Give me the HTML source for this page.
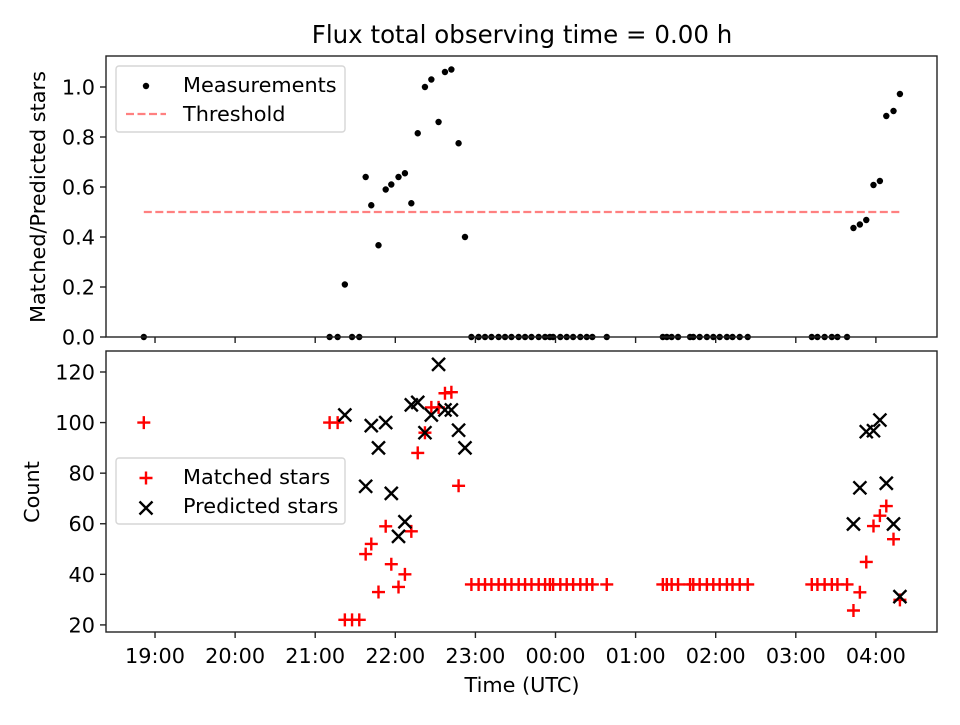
<!DOCTYPE html>
<html><head><meta charset="utf-8"><style>
body{margin:0;background:#fff}
svg{font-family:"DejaVu Sans","Liberation Sans",sans-serif}
</style></head><body>
<svg id="c" width="960" height="720" viewBox="0 0 960 720" xmlns="http://www.w3.org/2000/svg">
<rect width="960" height="720" fill="#fff"/>
<text x="522" y="43" font-size="24.5" text-anchor="middle">Flux total observing time = 0.00 h</text>
<g id="topPanel"></g>
<g id="botPanel"></g>
</svg>
<script>
const ratioTimes=[18.86,21.18,21.28,21.46,21.55,21.37,21.63,21.70,21.79,21.88,21.95,22.04,22.12,22.20,22.28,22.37,22.45,22.54,22.62,22.70,22.79,22.87,
22.95,23.04,23.12,23.20,23.29,23.37,23.45,23.54,23.62,23.70,23.79,23.87,23.93,23.97,24.06,24.14,24.22,24.31,24.39,24.46,24.64,
25.34,25.39,25.45,25.53,25.68,25.72,25.80,25.89,25.97,26.05,26.14,26.21,26.30,26.40,
27.20,27.27,27.36,27.45,27.52,27.64,27.72,27.80,27.88,27.97,28.05,28.13,28.22,28.30];
const ratioValues=[0,0,0,0,0,0.21,0.64,0.527,0.367,0.59,0.61,0.64,0.655,0.535,0.815,1.0,1.03,0.86,1.06,1.07,0.775,0.40,
0,0,0,0,0,0,0,0,0,0,0,0,0,0,0,0,0,0,0,0,0,
0,0,0,0,0,0,0,0,0,0,0,0,0,0,
0,0,0,0,0,0,0.436,0.45,0.468,0.608,0.624,0.884,0.904,0.972];
const threshold=0.5, thresholdStart=18.86, thresholdEnd=28.30;
const matchedTimes=[18.86,21.18,21.28,21.37,21.46,21.55,21.63,21.70,21.79,21.88,21.95,22.04,22.12,22.20,22.28,22.37,22.45,22.54,22.62,22.70,22.79,
22.95,23.04,23.12,23.20,23.29,23.37,23.45,23.54,23.62,23.70,23.79,23.87,23.93,23.97,24.06,24.14,24.22,24.31,24.39,24.46,24.64,
25.34,25.39,25.45,25.53,25.68,25.72,25.80,25.89,25.97,26.05,26.14,26.21,26.30,26.40,
27.20,27.27,27.36,27.45,27.52,27.64,27.72,27.80,27.88,27.97,28.05,28.13,28.22,28.30];
const matchedValues=[100,100,100,22,22,22,48,52,33,59,44,35,40,57,88,96,106,106,111.6,112,75,
36,36,36,36,36,36,36,36,36,36,36,36,36,36,36,36,36,36,36,36,36,
36,36,36,36,36,36,36,36,36,36,36,36,36,36,
36,36,36,36,36,36,25.7,32.9,44.9,59.1,63.2,67,53.9,29.9];
const predictedTimes=[21.37,21.63,21.70,21.79,21.88,21.95,22.04,22.12,22.20,22.28,22.37,22.45,22.54,22.62,22.70,22.79,22.87,27.72,27.80,27.88,27.97,28.05,28.13,28.22,28.30];
const predictedValues=[103,74.8,98.8,90,100,72,55,60.8,107,108,96,103,123,105,105,97,90,59.9,74.2,96.4,96.8,101,76,59.9,31.2];
const xTicks=[19,20,21,22,23,24,25,26,27,28];
const xTickLabels=["19:00","20:00","21:00","22:00","23:00","00:00","01:00","02:00","03:00","04:00"];
const topTicks=[0,0.2,0.4,0.6,0.8,1.0];
const topTickLabels=["0.0","0.2","0.4","0.6","0.8","1.0"];
const botTicks=[20,40,60,80,100,120];
const botTickLabels=["20","40","60","80","100","120"];

const NS="http://www.w3.org/2000/svg";
const FS=20.8;
const L=106,R=937;
const X0=18.388,X1=28.763;
const sx=t=>L+(t-X0)/(X1-X0)*(R-L);
const TP={top:56,bot:337,min:0,max:1.124};
const BP={top:351,bot:632,min:17.2,max:128.3};
const sy=(p,v)=>p.bot-(v-p.min)/(p.max-p.min)*(p.bot-p.top);
function el(parent,tag,attrs,text){const e=document.createElementNS(NS,tag);for(const k in attrs)e.setAttribute(k,attrs[k]);if(text!==undefined)e.textContent=text;parent.appendChild(e);return e;}

function frame(g,p,ticks,labels,showX){
  ticks.forEach((v,i)=>{const y=sy(p,v);
    const tk=el(g,'line',{x1:L-6,x2:L,y1:y,y2:y,stroke:'#222','stroke-width':1.4});
    
    const tl=el(g,'text',{x:L-11,y:y+7.5,'font-size':FS,'text-anchor':'end'},labels[i]);
    
  });
  xTicks.forEach((v,i)=>{const x=sx(v);
    const tk=el(g,'line',{x1:x,x2:x,y1:p.bot,y2:p.bot+6,stroke:'#222','stroke-width':1.4});
    
    if(showX){const tl=el(g,'text',{x:x,y:p.bot+31,'font-size':FS,'text-anchor':'middle'},xTickLabels[i]);
      }
  });
}
const topG=document.getElementById('topPanel'), botG=document.getElementById('botPanel');
frame(topG,TP,topTicks,topTickLabels,false);
frame(botG,BP,botTicks,botTickLabels,true);

const th=el(topG,'line',{x1:sx(thresholdStart),x2:sx(thresholdEnd),y1:sy(TP,threshold),y2:sy(TP,threshold),stroke:'#ff8080','stroke-width':2.2,'stroke-dasharray':'8,3.5'});

ratioTimes.forEach((t,i)=>{const c=el(topG,'circle',{cx:sx(t),cy:sy(TP,ratioValues[i]),r:3.2,fill:'#000'});
  });

function plus(g,x,y){return el(g,'path',{d:`M${x-6.5},${y}H${x+6.5}M${x},${y-6.5}V${y+6.5}`,stroke:'#f00','stroke-width':2.4});}
function cross(g,x,y){return el(g,'path',{d:`M${x-6.5},${y-6.5}L${x+6.5},${y+6.5}M${x-6.5},${y+6.5}L${x+6.5},${y-6.5}`,stroke:'#000','stroke-width':2.4});}
matchedTimes.forEach((t,i)=>{const p=plus(botG,sx(t),sy(BP,matchedValues[i]));
  });
predictedTimes.forEach((t,i)=>{const p=cross(botG,sx(t),sy(BP,predictedValues[i]));
  });

el(topG,'rect',{x:L,y:TP.top,width:R-L,height:TP.bot-TP.top,fill:'none',stroke:'#222','stroke-width':1.4});
el(botG,'rect',{x:L,y:BP.top,width:R-L,height:BP.bot-BP.top,fill:'none',stroke:'#222','stroke-width':1.4});

const lg1=el(topG,'g',{});


el(lg1,'rect',{x:116,y:66,width:229,height:66,rx:3,fill:'#fff','fill-opacity':0.8,stroke:'#d6d6d6','stroke-width':1.4});
el(lg1,'circle',{cx:146,cy:86,r:3.2,fill:'#000'});
el(lg1,'text',{x:183,y:92,'font-size':FS},'Measurements');
el(lg1,'line',{x1:126,x2:166,y1:114,y2:114,stroke:'#ff8080','stroke-width':2.2,'stroke-dasharray':'8,3.5'});
el(lg1,'text',{x:183,y:121,'font-size':FS},'Threshold');

const lg2=el(botG,'g',{});


el(lg2,'rect',{x:116,y:458,width:229,height:66,rx:3,fill:'#fff','fill-opacity':0.8,stroke:'#d6d6d6','stroke-width':1.4});
plus(lg2,146,478);
el(lg2,'text',{x:183,y:484,'font-size':FS},'Matched stars');
cross(lg2,146,508);
el(lg2,'text',{x:183,y:513,'font-size':FS},'Predicted stars');

const yl1=el(topG,'text',{x:0,y:0,'font-size':FS,'text-anchor':'middle',transform:'translate(45,197) rotate(-90)'},'Matched/Predicted stars');


const yl2=el(botG,'text',{x:0,y:0,'font-size':FS,'text-anchor':'middle',transform:'translate(39,492) rotate(-90)'},'Count');


const xl=el(botG,'text',{x:522,y:692,'font-size':FS,'text-anchor':'middle'},'Time (UTC)');


</script>
</body></html>
